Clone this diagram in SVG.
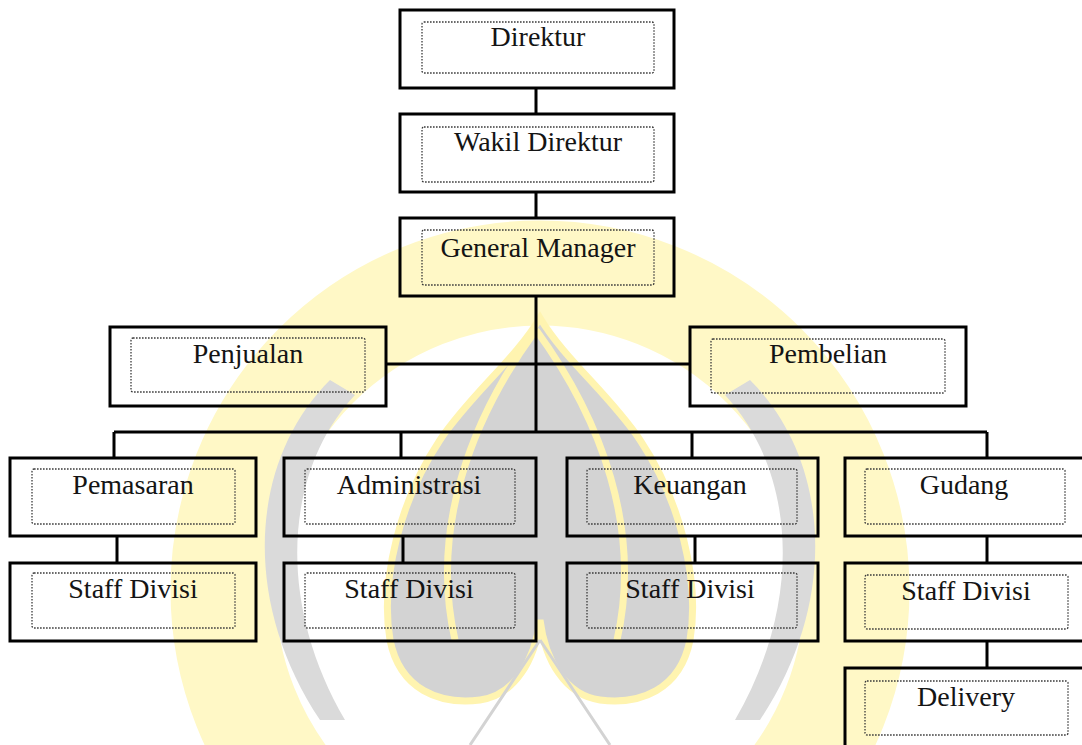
<svg xmlns="http://www.w3.org/2000/svg" width="1082" height="745" viewBox="0 0 1082 745">
<style>
.box{fill:none;stroke:#000;stroke-width:3}
.inner{fill:none;stroke:#3a3a3a;stroke-width:1.3;stroke-dasharray:1.6 1.4}
.lbl{font-family:"Liberation Serif","Times New Roman",serif;font-size:28px;fill:#141414;text-anchor:middle}
.conn{fill:none;stroke:#000;stroke-width:3}
</style>
<rect width="1082" height="745" fill="#fff"/>
<g id="watermark">
<circle cx="540" cy="590" r="317" fill="none" stroke="#fff8c6" stroke-width="105"/>
<path d="M540 318 C515 360 470 395 440 440 C400 500 380 580 390 640 C400 690 440 705 480 700 C515 695 535 660 540 620 C545 660 565 695 600 700 C640 705 680 690 690 640 C700 580 680 500 640 440 C610 395 565 360 540 318 Z" fill="#d3d3d3" stroke="#fff4b0" stroke-width="7"/>
<path d="M330 380 C250 460 240 600 320 720 L345 720 C275 600 285 470 355 395 Z" fill="#dadada"/>
<path d="M750 380 C830 460 840 600 760 720 L735 720 C805 600 795 470 725 395 Z" fill="#dadada"/>
<path d="M455 640 C430 530 470 420 536 330 M617 640 C642 530 602 420 536 330" fill="none" stroke="#fff4b0" stroke-width="7"/>
<path d="M540 640 L470 745 M540 640 L610 745" fill="none" stroke="#d3d3d3" stroke-width="3"/>
</g>
<g id="connectors">
<path class="conn" d="M536 88 V114 M536 192 V218 M536 296 V432 M386 364 H690 M114 432 H987 M114 432 V458 M401 432 V458 M692 432 V458 M987 432 V458 M117 536 V563 M403 536 V563 M695 536 V563 M987 536 V563 M987 641 V668"/>
</g>
<g id="direktur"><rect class="box" x="400" y="10" width="274" height="78"/><rect class="inner" x="422" y="22" width="232" height="51" rx="2"/><text class="lbl" x="538" y="46">Direktur</text></g>
<g id="wakil-direktur"><rect class="box" x="400" y="114" width="274" height="78"/><rect class="inner" x="422" y="127" width="232" height="55" rx="2"/><text class="lbl" x="538" y="151">Wakil Direktur</text></g>
<g id="general-manager"><rect class="box" x="400" y="218" width="274" height="78"/><rect class="inner" x="422" y="230" width="232" height="55" rx="2"/><text class="lbl" x="538" y="257">General Manager</text></g>
<g id="penjualan"><rect class="box" x="110" y="327" width="276" height="79"/><rect class="inner" x="131" y="338" width="234" height="54" rx="2"/><text class="lbl" x="248" y="363">Penjualan</text></g>
<g id="pembelian"><rect class="box" x="690" y="327" width="276" height="79"/><rect class="inner" x="711" y="339" width="234" height="54" rx="2"/><text class="lbl" x="828" y="363">Pembelian</text></g>
<g id="pemasaran"><rect class="box" x="10" y="458" width="246" height="78"/><rect class="inner" x="32" y="469" width="203" height="55" rx="2"/><text class="lbl" x="133" y="494">Pemasaran</text></g>
<g id="administrasi"><rect class="box" x="284" y="458" width="252" height="78"/><rect class="inner" x="305" y="469" width="210" height="55" rx="2"/><text class="lbl" x="409" y="494">Administrasi</text></g>
<g id="keuangan"><rect class="box" x="567" y="458" width="251" height="78"/><rect class="inner" x="587" y="469" width="210" height="55" rx="2"/><text class="lbl" x="690" y="494">Keuangan</text></g>
<g id="gudang"><rect class="box" x="845" y="458" width="245" height="78"/><rect class="inner" x="865" y="469" width="200" height="55" rx="2"/><text class="lbl" x="964" y="494">Gudang</text></g>
<g id="staff-pemasaran"><rect class="box" x="10" y="563" width="246" height="78"/><rect class="inner" x="32" y="573" width="203" height="55" rx="2"/><text class="lbl" x="133" y="598">Staff Divisi</text></g>
<g id="staff-administrasi"><rect class="box" x="284" y="563" width="252" height="78"/><rect class="inner" x="305" y="573" width="210" height="55" rx="2"/><text class="lbl" x="409" y="598">Staff Divisi</text></g>
<g id="staff-keuangan"><rect class="box" x="567" y="563" width="251" height="78"/><rect class="inner" x="587" y="573" width="210" height="55" rx="2"/><text class="lbl" x="690" y="598">Staff Divisi</text></g>
<g id="staff-gudang"><rect class="box" x="845" y="563" width="245" height="78"/><rect class="inner" x="865" y="575" width="203" height="54" rx="2"/><text class="lbl" x="966" y="600">Staff Divisi</text></g>
<g id="delivery"><rect class="box" x="845" y="668" width="245" height="90"/><rect class="inner" x="865" y="681" width="203" height="54" rx="2"/><text class="lbl" x="966" y="706">Delivery</text></g>
</svg>
